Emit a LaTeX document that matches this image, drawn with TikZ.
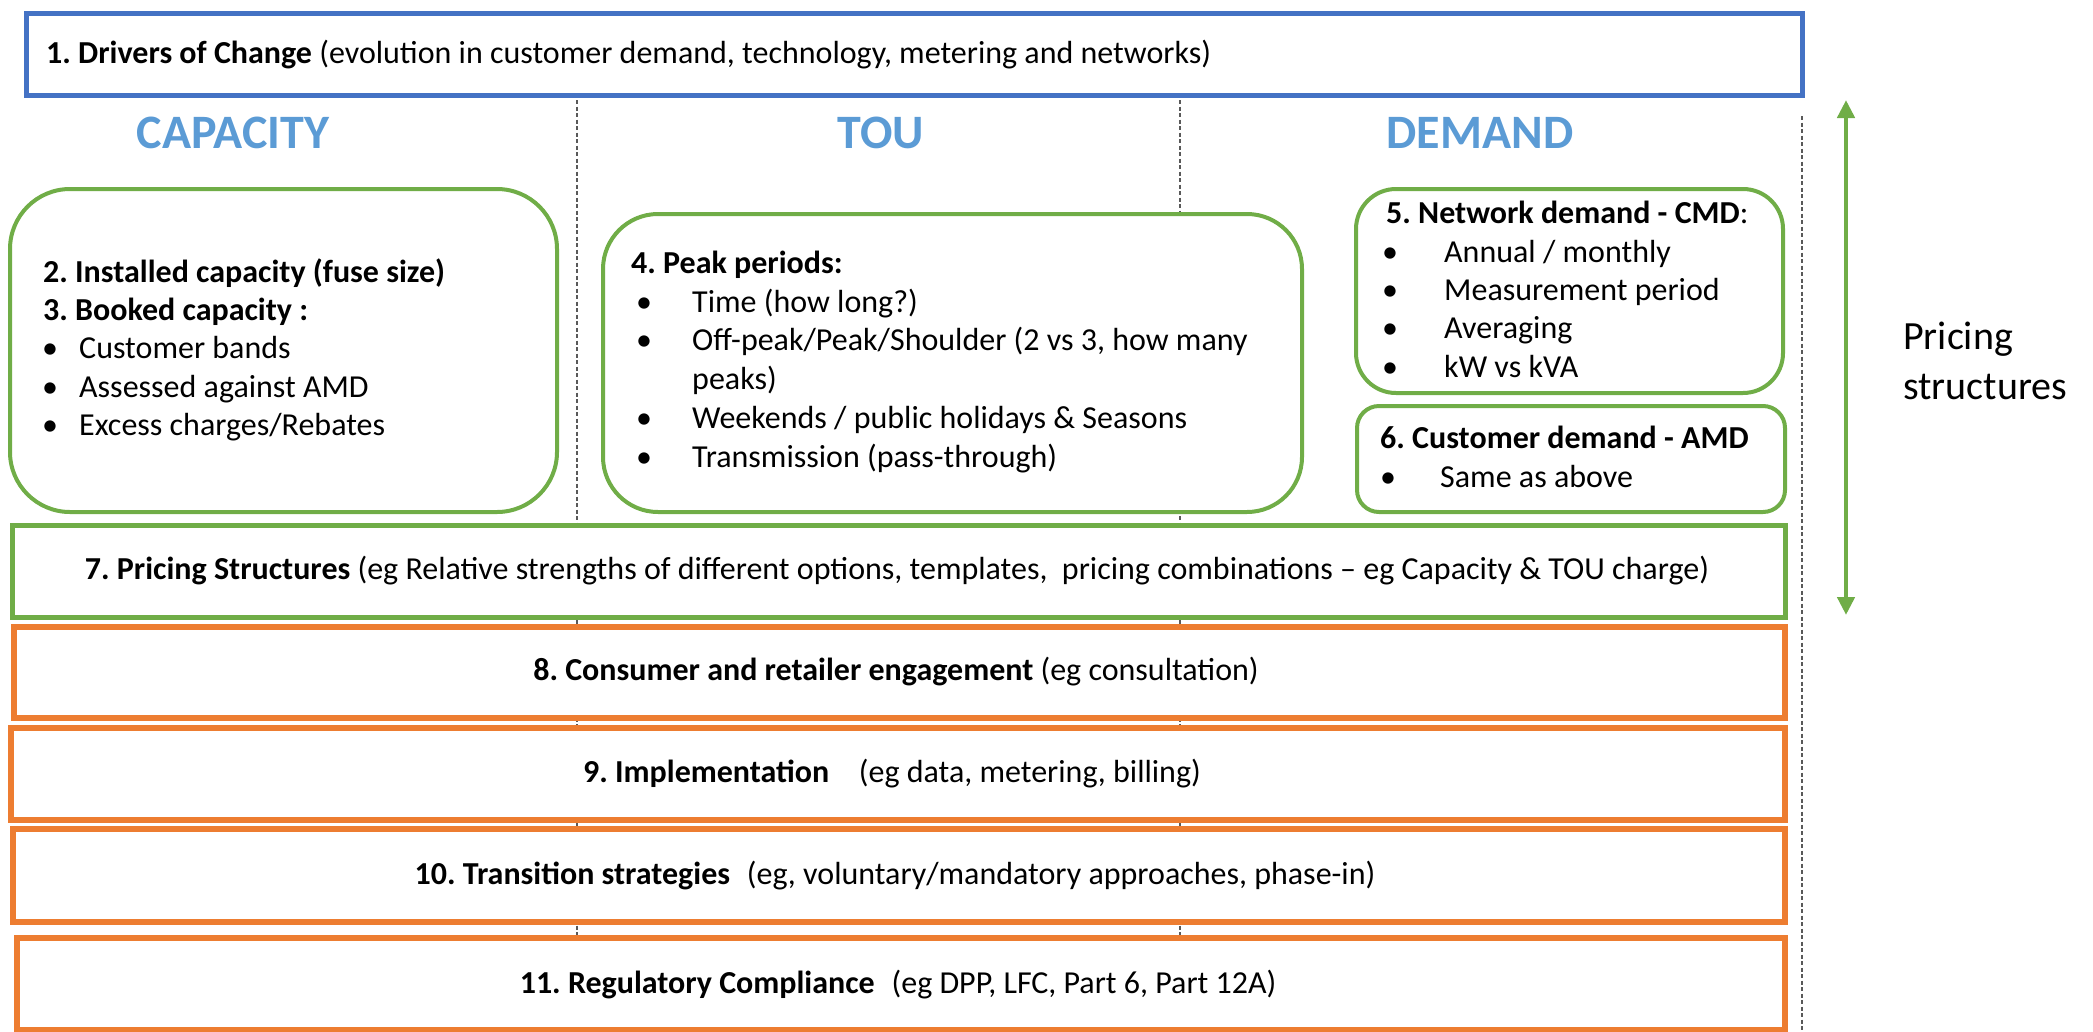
\documentclass[tikz,border=0pt]{standalone}
\usepackage{fontspec}
\setmainfont{Carlito}
\usetikzlibrary{arrows.meta}
\definecolor{bblue}{HTML}{4472C4}
\definecolor{hblue}{HTML}{5B9BD5}
\definecolor{gg}{HTML}{70AD47}
\definecolor{oo}{HTML}{ED7D31}
\frenchspacing
\begin{document}
\begin{tikzpicture}[x=1pt,y=-1pt,
  box/.style={draw, fill=white, inner sep=0pt, anchor=north west},
  bluebox/.style={box, draw=bblue, line width=5pt},
  greenround/.style={box, draw=gg, line width=4pt, rounded corners=#1},
  greenbox/.style={box, draw=gg, line width=4.5pt},
  orangebox/.style={box, draw=oo, line width=5.5pt},
  head/.style={font=\fontsize{48}{52}\selectfont\bfseries, text=hblue, inner sep=0pt},
  txt/.style={font=\fontsize{32}{38}\selectfont, inner sep=0pt, anchor=base west},
  ctxt/.style={font=\fontsize{32}{38}\selectfont, inner sep=0pt, anchor=base},
  divider/.style={draw=black!65, line width=1.2pt, dash pattern=on 4pt off 2.5pt},
  pricearrow/.style={draw=gg, line width=4.5pt, {Triangle[width=17pt,length=18pt]}-{Triangle[width=17pt,length=18pt]}},
]
\useasboundingbox (0,0) rectangle (2093,1031);
% dividers
\coordinate (d1t) at (577,100); \coordinate (d1b) at (577,1031);
\coordinate (d2t) at (1180,100); \coordinate (d2b) at (1180,1031);
\coordinate (d3t) at (1802,116); \coordinate (d3b) at (1802,1031);
\draw[divider] (d1t) -- (d1b);
\draw[divider] (d2t) -- (d2b);
\draw[divider] (d3t) -- (d3b);

% box 1
\node[bluebox, minimum width=1776pt, minimum height=82pt] (b1) at (24,11) {};
\node[txt] (t1) at (46,63) {\textbf{1. Drivers of Change} (evolution in customer demand, technology, metering and networks)};

% headers
\node[head] (hcap) at (233,133) {CAPACITY};
\node[head] (htou) at (881,133) {TOU};
\node[head] (hdem) at (1480,133) {DEMAND};

% box 2/3
\node[greenround=60pt, minimum width=547pt, minimum height=323pt] (b2) at (8,187) {};
\node[txt] (t2a) at (43,282) {\textbf{2. Installed capacity (fuse size)}};
\node[txt] (t2b) at (43,320) {\textbf{3. Booked capacity :}};
\node[txt] (t2c) at (42,358) {\textbullet};
\node[txt] (t2d) at (79,358) {Customer bands};
\node[txt] (t2e) at (42,397) {\textbullet};
\node[txt] (t2f) at (79,397) {Assessed against AMD};
\node[txt] (t2g) at (42,435) {\textbullet};
\node[txt] (t2h) at (79,435) {Excess charges/Rebates};

% box 4
\node[greenround=55pt, minimum width=699pt, minimum height=298pt] (b4) at (601,212) {};
\node[txt] (t4a) at (631,273) {\textbf{4. Peak periods:}};
\node[txt] (t4b) at (636,312) {\textbullet};
\node[txt] (t4c) at (692,312) {Time (how long?)};
\node[txt] (t4d) at (636,350) {\textbullet};
\node[txt] (t4e) at (692,350) {Off-peak/Peak/Shoulder (2 vs 3, how many};
\node[txt] (t4f) at (692,389) {peaks)};
\node[txt] (t4g) at (636,428) {\textbullet};
\node[txt] (t4h) at (692,428) {Weekends / public holidays \& Seasons};
\node[txt] (t4i) at (636,467) {\textbullet};
\node[txt] (t4j) at (692,467) {Transmission (pass-through)};

% box 5
\node[greenround=40pt, minimum width=427pt, minimum height=204pt] (b5) at (1354,187) {};
\node[txt] (t5a) at (1386,223) {\textbf{5. Network demand - CMD}:};
\node[txt] (t5b) at (1382,262) {\textbullet};
\node[txt] (t5c) at (1444,262) {Annual / monthly};
\node[txt] (t5d) at (1382,300) {\textbullet};
\node[txt] (t5e) at (1444,300) {Measurement period};
\node[txt] (t5f) at (1382,338) {\textbullet};
\node[txt] (t5g) at (1444,338) {Averaging};
\node[txt] (t5h) at (1382,377) {\textbullet};
\node[txt] (t5i) at (1444,377) {kW vs kVA};

% box 6
\node[greenround=22pt, minimum width=428pt, minimum height=106pt] (b6) at (1355,404) {};
\node[txt] (t6a) at (1380,448) {\textbf{6. Customer demand - AMD}};
\node[txt] (t6b) at (1380,487) {\textbullet};
\node[txt] (t6c) at (1440,487) {Same as above};

% box 7
\node[greenbox, minimum width=1773pt, minimum height=92pt] (b7) at (10,523) {};
\node[ctxt] (t7) at (897,579) {\textbf{7. Pricing Structures} (eg Relative strengths of different options, templates,\ \ pricing combinations -- eg Capacity \& TOU charge)};

% orange boxes
\node[orangebox, minimum width=1771pt, minimum height=91pt] (b8) at (11,624) {};
\node[ctxt] (t8) at (896,680) {\textbf{8. Consumer and retailer engagement} (eg consultation)};
\node[orangebox, minimum width=1774pt, minimum height=92pt] (b9) at (8,725) {};
\node[ctxt] (t9) at (892,782) {\textbf{9. Implementation}\hspace{0.7em} (eg data, metering, billing)};
\node[orangebox, minimum width=1772pt, minimum height=93pt] (b10) at (10,826) {};
\node[ctxt] (t10) at (895,884) {\textbf{10. Transition strategies}\hspace{0.3em} (eg, voluntary/mandatory approaches, phase-in)};
\node[orangebox, minimum width=1768pt, minimum height=92pt] (b11) at (14,935) {};
\node[ctxt] (t11) at (898,993) {\textbf{11. Regulatory Compliance}\hspace{0.3em} (eg DPP, LFC, Part 6, Part 12A)};

% arrow and label
\coordinate (at) at (1846,100);
\coordinate (ab) at (1846,615);
\draw[pricearrow] (at) -- (ab);
\node[font=\fontsize{40}{50}\selectfont, inner sep=0pt, anchor=base west, align=left] (pl) at (1903,399) {Pricing\\structures};
\end{tikzpicture}
\end{document}
